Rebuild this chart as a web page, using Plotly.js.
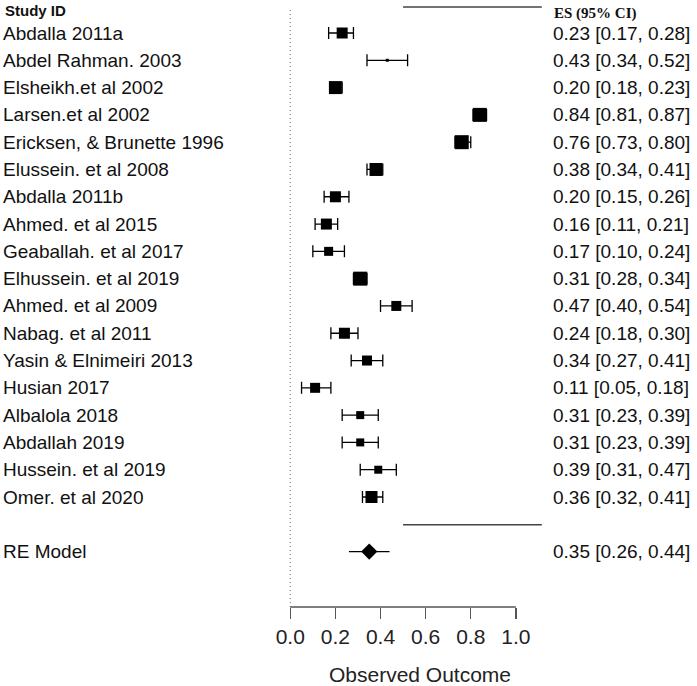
<!DOCTYPE html>
<html>
<head>
<meta charset="utf-8">
<script src="https://cdn.plot.ly/plotly-3.0.1.min.js"></script>
<style>
  body { margin: 0; background: #fff; }
  #forest { width: 697px; height: 686px; }
</style>
</head>
<body>
<div id="forest"></div>
<script>
// study data
var studies = ["Abdalla 2011a", "Abdel Rahman. 2003", "Elsheikh.et al 2002", "Larsen.et al 2002",
  "Ericksen, & Brunette 1996", "Elussein. et al 2008", "Abdalla 2011b", "Ahmed. et al 2015",
  "Geaballah. et al 2017", "Elhussein. et al 2019", "Ahmed. et al 2009", "Nabag. et al 2011",
  "Yasin & Elnimeiri 2013", "Husian 2017", "Albalola 2018", "Abdallah 2019",
  "Hussein. et al 2019", "Omer. et al 2020"];
var es = [0.23, 0.43, 0.20, 0.84, 0.76, 0.38, 0.20, 0.16, 0.17, 0.31, 0.47, 0.24, 0.34, 0.11, 0.31, 0.31, 0.39, 0.36];
var lo = [0.17, 0.34, 0.18, 0.81, 0.73, 0.34, 0.15, 0.11, 0.10, 0.28, 0.40, 0.18, 0.27, 0.05, 0.23, 0.23, 0.31, 0.32];
var hi = [0.28, 0.52, 0.23, 0.87, 0.80, 0.41, 0.26, 0.21, 0.24, 0.34, 0.54, 0.30, 0.41, 0.18, 0.39, 0.39, 0.47, 0.41];
// relative weights (box size in px as drawn)
var weights = [11, 3, 13, 14, 14, 13, 11, 11, 9, 14, 10, 11, 10, 10, 8, 8, 8, 12];

var reLabel = "RE Model";
var reEs = 0.35, reLo = 0.26, reHi = 0.44;

var xTicks = [0, 0.2, 0.4, 0.6, 0.8, 1.0];

var rows = studies.map(function (s, i) { return i + 1; });
var reRow = studies.length + 2;

var fmt = function (v) { return v.toFixed(2); };
var ciText = function (e, l, h) { return fmt(e) + " [" + fmt(l) + ", " + fmt(h) + "]"; };

var studyTrace = {
  x: es,
  y: rows,
  type: "scatter",
  mode: "markers",
  // size array makes plotly treat it as bubbles (0.7 opacity), so force opaque
  marker: { symbol: "square", size: weights, color: "#000", opacity: 1, line: { width: 0 } },
  error_x: {
    type: "data",
    array: es.map(function (v, i) { return hi[i] - v; }),
    arrayminus: es.map(function (v, i) { return v - lo[i]; }),
    color: "#000",
    thickness: 1.3,
    width: 6
  },
  hoverinfo: "skip",
  showlegend: false
};

var reTrace = {
  x: [reEs],
  y: [reRow],
  type: "scatter",
  mode: "markers",
  marker: { symbol: "diamond", size: 12.5, color: "#000" },
  error_x: {
    type: "data",
    array: [reHi - reEs],
    arrayminus: [reEs - reLo],
    color: "#000",
    thickness: 1.3,
    width: 0
  },
  hoverinfo: "skip",
  showlegend: false
};

var labelFont = { family: "Liberation Sans, Arial, sans-serif", size: 19, color: "#111" };
var leftX = -0.986, rightX = 0.965;

var annotations = [];
studies.forEach(function (s, i) {
  annotations.push({ xref: "paper", yref: "y", x: leftX, y: rows[i], text: s,
    showarrow: false, xanchor: "left", yanchor: "middle", font: labelFont });
  annotations.push({ xref: "paper", yref: "y", x: rightX, y: rows[i], text: ciText(es[i], lo[i], hi[i]),
    showarrow: false, xanchor: "left", yanchor: "middle", font: labelFont });
});
annotations.push({ xref: "paper", yref: "y", x: leftX, y: reRow, text: reLabel,
  showarrow: false, xanchor: "left", yanchor: "middle", font: labelFont });
annotations.push({ xref: "paper", yref: "y", x: rightX, y: reRow, text: ciText(reEs, reLo, reHi),
  showarrow: false, xanchor: "left", yanchor: "middle", font: labelFont });
annotations.push({ xref: "paper", yref: "y", x: -0.979, y: 0.19, text: "<b>Study ID</b>",
  showarrow: false, xanchor: "left", yanchor: "middle",
  font: { family: "Liberation Sans, Arial, sans-serif", size: 15, color: "#111" } });
annotations.push({ xref: "paper", yref: "y", x: 0.968, y: 0.3, text: "<b>ES (95% CI)</b>",
  showarrow: false, xanchor: "left", yanchor: "middle",
  font: { family: "Liberation Serif, Times New Roman, serif", size: 15, color: "#111" } });

var shapes = [
  // reference line at 0
  { type: "line", xref: "x", yref: "y", x0: 0, x1: 0, y0: 0.16, y1: 22.03,
    line: { color: "#666", width: 1, dash: "1px,3px" } },
  // top and bottom separators
  { type: "line", xref: "x", yref: "y", x0: 0.5, x1: 1.115, y0: 0.05, y1: 0.05,
    line: { color: "#444", width: 1.5 } },
  { type: "line", xref: "x", yref: "y", x0: 0.5, x1: 1.115, y0: 19.02, y1: 19.02,
    line: { color: "#444", width: 1.5 } },
  // axis line
  { type: "line", xref: "x", yref: "paper", x0: 0, x1: 1, y0: 0, y1: 0,
    line: { color: "#555", width: 1.3 } }
];

var layout = {
  width: 697,
  height: 686,
  margin: { l: 279, r: 136, t: 0, b: 79 },
  paper_bgcolor: "#fff",
  plot_bgcolor: "#fff",
  xaxis: {
    range: [-0.05, 1.2],
    tickvals: xTicks,
    tickformat: ".1f",
    ticks: "outside",
    ticklen: 11,
    tickwidth: 1.3,
    tickcolor: "#555",
    showline: false,
    showgrid: false,
    zeroline: false,
    tickfont: { family: "Liberation Sans, Arial, sans-serif", size: 21, color: "#222" },
    title: { text: "Observed Outcome", standoff: 23,
      font: { family: "Liberation Sans, Arial, sans-serif", size: 21, color: "#222" } }
  },
  yaxis: {
    range: [22.03, -0.209],
    showticklabels: false,
    ticks: "",
    showgrid: false,
    zeroline: false,
    showline: false
  },
  shapes: shapes,
  annotations: annotations
};

Plotly.newPlot("forest", [studyTrace, reTrace], layout, { displayModeBar: false, staticPlot: true });
</script>
</body>
</html>
